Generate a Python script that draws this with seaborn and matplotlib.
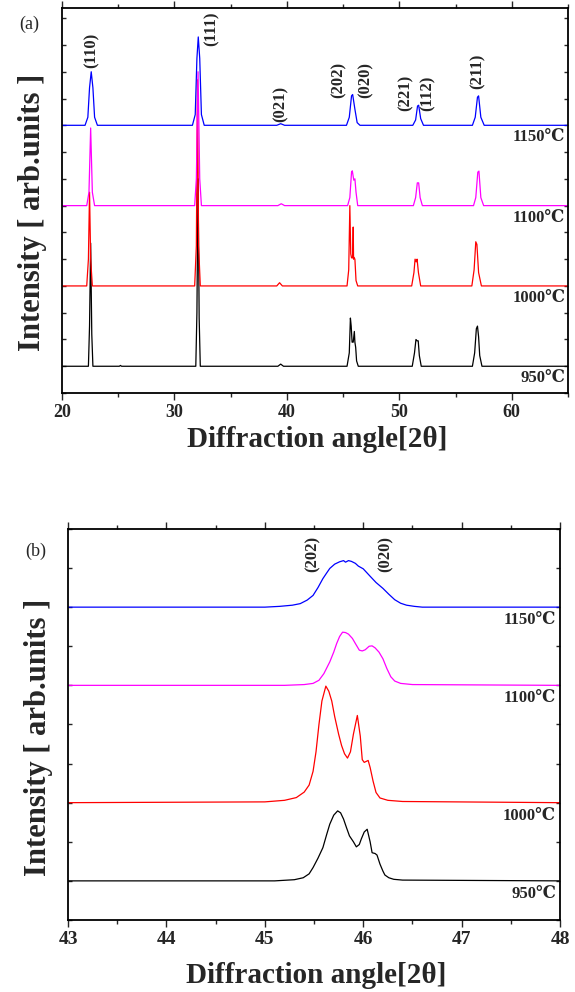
import numpy as np
import seaborn as sns
import matplotlib.pyplot as plt
from matplotlib.ticker import MultipleLocator, NullFormatter

sns.set_style("ticks")
plt.rcParams['font.family'] = ['Liberation Serif', 'DejaVu Serif', 'Noto Sans CJK SC']
plt.rcParams['font.weight'] = 'bold'

temps = ['950℃', '1000℃', '1100℃', '1150℃']
colors = ['black', 'red', 'magenta', 'blue']

# panel (a): wide scan, traced points, intensity above each curve's baseline
a_offsets = [1, 4, 7, 10]
a_x = [
    [20, 22.35, 22.45, 22.55, 22.65, 22.75, 25.1, 25.2, 25.3, 31.9, 32.0, 32.1, 32.2, 32.3,
     39.2, 39.45, 39.7, 45.35, 45.55, 45.65, 45.72, 45.8, 45.9, 46.0, 46.05, 46.12, 46.2, 46.35,
     51.15, 51.35, 51.48, 51.58, 51.68, 51.78, 51.95, 56.5, 56.7, 56.85, 56.95, 57.05, 57.15, 57.35, 65],
    [20, 22.2, 22.35, 22.45, 22.55, 22.7, 31.8, 31.95, 32.05, 32.15, 32.3, 39.1, 39.35, 39.6,
     45.35, 45.5, 45.6, 45.68, 45.75, 45.85, 45.9, 45.93, 45.96, 46.05, 46.15, 46.3,
     51.1, 51.3, 51.4, 51.5, 51.58, 51.7, 51.9, 56.45, 56.65, 56.8, 56.9, 57.05, 57.3, 65],
    [20, 22.2, 22.4, 22.55, 22.7, 22.9, 31.8, 31.95, 32.1, 32.25, 32.4, 39.2, 39.5, 39.8,
     45.4, 45.6, 45.75, 45.82, 45.95, 46.05, 46.15, 46.3, 51.25, 51.45, 51.6, 51.72, 51.85, 52.05,
     56.6, 56.8, 56.98, 57.08, 57.25, 57.5, 65],
    [20, 22.05, 22.3, 22.45, 22.6, 22.75, 22.9, 23.15, 31.6, 31.85, 32.0, 32.12, 32.25, 32.4, 32.65,
     39.1, 39.45, 39.8, 45.3, 45.55, 45.75, 45.85, 46.05, 46.25, 46.5, 51.2, 51.45, 51.62, 51.72,
     51.9, 52.15, 56.5, 56.75, 56.95, 57.05, 57.25, 57.55, 65],
]
a_y = [
    [0, 0, 1.5, 4.6, 1.2, 0, 0, 0.03, 0, 0, 2.0, 7.0, 1.8, 0,
     0, 0.08, 0, 0, 0.5, 1.8, 1.5, 0.9, 0.9, 1.3, 0.9, 0.7, 0.2, 0,
     0, 0.5, 1.0, 0.95, 0.95, 0.4, 0, 0, 0.5, 1.4, 1.5, 1.1, 0.4, 0, 0],
    [0, 0, 1.0, 3.5, 1.0, 0, 0, 1.5, 7.7, 1.5, 0, 0, 0.12, 0,
     0, 0.6, 3.0, 1.2, 1.05, 1.05, 2.2, 1.0, 1.07, 1.0, 0.2, 0,
     0, 0.5, 1.0, 0.9, 1.0, 0.5, 0, 0, 0.6, 1.65, 1.55, 0.5, 0, 0],
    [0, 0, 0.5, 2.9, 0.5, 0, 0, 1.0, 5.0, 1.0, 0, 0, 0.07, 0,
     0, 0.3, 1.25, 1.3, 0.95, 1.0, 0.5, 0, 0, 0.3, 0.85, 0.85, 0.3, 0,
     0, 0.3, 1.25, 1.29, 0.3, 0, 0],
    [0, 0, 0.3, 1.4, 2.0, 1.4, 0.3, 0, 0, 0.4, 2.5, 3.3, 2.5, 0.4, 0,
     0, 0.06, 0, 0, 0.3, 1.1, 1.15, 0.6, 0.1, 0, 0, 0.2, 0.72, 0.75,
     0.25, 0, 0, 0.3, 1.05, 1.1, 0.3, 0, 0],
]
a_hkl = ['(110)', '(111)', '(021)', '(202)', '(020)', '(221)', '(112)', '(211)']
a_hkl_x = [22.6, 33.35, 39.45, 44.6, 47.0, 50.6, 52.5, 57.0]
a_hkl_y = [12.8, 13.6, 10.8, 11.7, 11.7, 11.2, 11.2, 12.0]

# panel (b): 43-48 zoom of the (202)/(020) doublet
b_offsets = [1, 3, 6, 8]
b_x = [
    [43, 45.1, 45.3, 45.39, 45.45, 45.49, 45.54, 45.59, 45.63, 45.66, 45.70, 45.74, 45.77, 45.80,
     45.83, 45.86, 45.90, 45.93, 45.96, 45.98, 46.01, 46.04, 46.07, 46.09, 46.12, 46.14, 46.17,
     46.20, 46.22, 46.26, 46.31, 46.4, 48],
    [43, 45.0, 45.2, 45.32, 45.4, 45.45, 45.49, 45.52, 45.55, 45.58, 45.62, 45.65, 45.68, 45.71,
     45.75, 45.78, 45.81, 45.84, 45.87, 45.90, 45.94, 45.97, 45.99, 46.01, 46.05, 46.07, 46.10,
     46.13, 46.17, 46.25, 46.4, 48],
    [43, 45.2, 45.4, 45.49, 45.55, 45.6, 45.66, 45.70, 45.73, 45.76, 45.79, 45.82, 45.85, 45.89,
     45.92, 45.96, 45.99, 46.02, 46.06, 46.09, 46.12, 46.16, 46.20, 46.24, 46.28, 46.32, 46.38,
     46.5, 48],
    [43, 45.0, 45.15, 45.28, 45.36, 45.43, 45.49, 45.54, 45.59, 45.63, 45.66, 45.71, 45.76, 45.80,
     45.82, 45.85, 45.88, 45.92, 45.95, 46.0, 46.07, 46.13, 46.20, 46.26, 46.32, 46.38, 46.44,
     46.52, 46.6, 48],
]
b_y = [
    [0, 0, 0.03, 0.08, 0.18, 0.34, 0.58, 0.85, 1.2, 1.45, 1.68, 1.79, 1.74, 1.58,
     1.36, 1.15, 1.0, 0.87, 0.93, 1.07, 1.25, 1.32, 1.0, 0.72, 0.7, 0.66, 0.43,
     0.25, 0.15, 0.08, 0.04, 0.02, 0],
    [0, 0.02, 0.06, 0.13, 0.27, 0.45, 0.80, 1.3, 2.0, 2.6, 2.98, 2.85, 2.6, 2.2,
     1.75, 1.46, 1.25, 1.14, 1.3, 1.75, 2.23, 1.7, 1.1, 1.03, 1.08, 0.9, 0.55,
     0.26, 0.12, 0.06, 0.03, 0],
    [0, 0, 0.02, 0.05, 0.13, 0.3, 0.6, 0.85, 1.07, 1.25, 1.36, 1.35, 1.31, 1.2,
     1.07, 0.9, 0.88, 0.91, 1.0, 1.01, 0.96, 0.85, 0.68, 0.43, 0.22, 0.11, 0.05,
     0.02, 0],
    [0, 0, 0.02, 0.05, 0.09, 0.18, 0.30, 0.5, 0.73, 0.88, 0.99, 1.1, 1.16, 1.19,
     1.15, 1.19, 1.17, 1.12, 1.05, 0.98, 0.79, 0.63, 0.48, 0.33, 0.19, 0.1, 0.05,
     0.02, 0, 0],
]
b_hkl = ['(202)', '(020)']
b_hkl_x = [45.49, 46.23]
b_hkl_y = [9.35, 9.35]

fig = plt.figure(figsize=(5.75, 9.92), dpi=100)
ax1 = fig.add_axes([0.1078, 0.6038, 0.88, 0.3881])
ax2 = fig.add_axes([0.1183, 0.0726, 0.8557, 0.3942])


def style_axis(ax, xmin, xmax, ymax, major, minor, tick_size):
    ax.set_xlim(xmin, xmax)
    ax.set_ylim(0, ymax)
    ax.xaxis.set_major_locator(MultipleLocator(major))
    ax.xaxis.set_minor_locator(MultipleLocator(minor))
    ax.yaxis.set_major_locator(MultipleLocator(1))
    ax.yaxis.set_major_formatter(NullFormatter())
    ax.tick_params(axis='x', which='both', direction='out', top=True, bottom=True,
                   labelsize=tick_size, width=1, pad=3)
    ax.tick_params(axis='x', which='major', length=5)
    ax.tick_params(axis='x', which='minor', length=3)
    ax.tick_params(axis='y', which='both', direction='in', left=True, right=True, length=3, width=1)
    for lab in ax.get_xticklabels():
        lab.set_fontweight('bold')
    for s in ax.spines.values():
        s.set_linewidth(1.3)
        s.set_color('black')


# panel (a)
for xs, ys, off, c in zip(a_x, a_y, a_offsets, colors):
    sns.lineplot(x=xs, y=np.array(ys) + off, ax=ax1, color=c, lw=0.9, sort=False, estimator=None)
for t, off in zip(temps, a_offsets):
    ax1.text(64.75, off - 0.45, t, ha='right', va='center', fontsize=12, fontweight='bold')
for h, hx, hy in zip(a_hkl, a_hkl_x, a_hkl_y):
    ax1.text(hx, hy, h, rotation=90, ha='center', va='center', fontsize=12, fontweight='bold')
style_axis(ax1, 20, 65, 14.38, 10, 5, 13)

# panel (b)
for xs, ys, off, c in zip(b_x, b_y, b_offsets, colors):
    sns.lineplot(x=xs, y=np.array(ys) + off, ax=ax2, color=c, lw=0.9, sort=False, estimator=None)
for t, off in zip(temps, b_offsets):
    ax2.text(47.96, off - 0.33, t, ha='right', va='center', fontsize=12, fontweight='bold')
for h, hx, hy in zip(b_hkl, b_hkl_x, b_hkl_y):
    ax2.text(hx, hy, h, rotation=90, ha='center', va='center', fontsize=12, fontweight='bold')
style_axis(ax2, 43, 48, 10, 1, 0.5, 14)

for ax, ylab_y, xlab_y, ylab_x in [(ax1, 0.47, -0.122, -0.058), (ax2, 0.468, -0.141, -0.06)]:
    ax.set_xlabel('Diffraction angle[2θ]', fontsize=21, fontweight='bold', va='center')
    ax.set_ylabel('Intensity [ arb.units ]', fontsize=22, fontweight='bold', va='center')
    ax.xaxis.set_label_coords(0.505, xlab_y)
    ax.yaxis.set_label_coords(ylab_x, ylab_y)

fig.text(29 / 575, 1 - 24 / 992, '(a)', fontsize=13, fontweight='normal', ha='center', va='center')
fig.text(36 / 575, 1 - 551 / 992, '(b)', fontsize=13, fontweight='normal', ha='center', va='center')

fig.savefig('out.png', dpi=100)
